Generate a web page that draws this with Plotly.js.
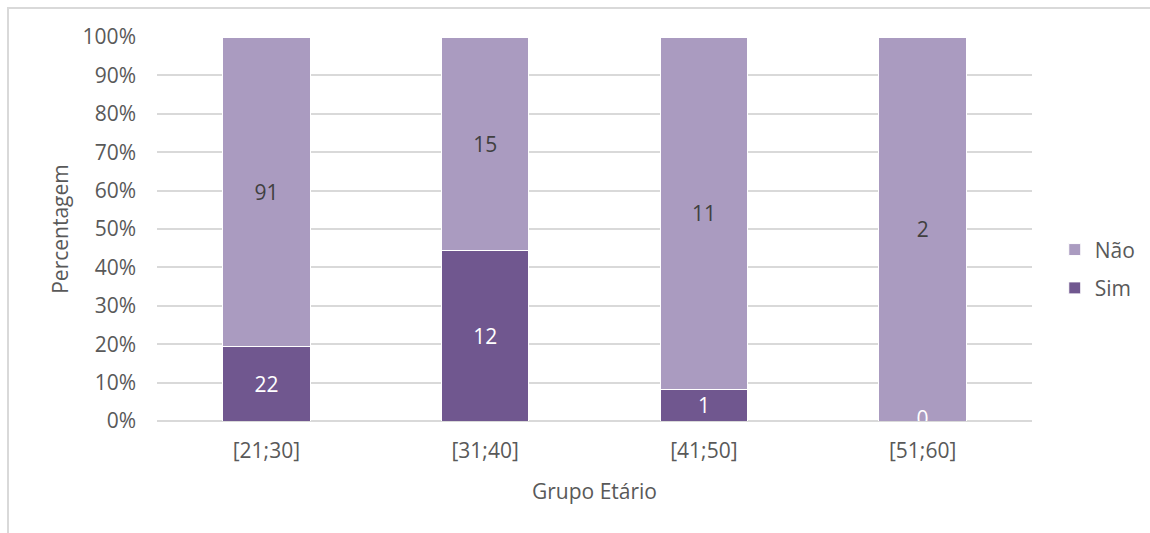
<!DOCTYPE html>
<html>
<head>
<meta charset="utf-8">
<script src="https://cdn.plot.ly/plotly-3.0.1.min.js"></script>
<style>
  html, body { margin: 0; padding: 0; background: #fff; }
  #wrap { position: relative; width: 1150px; height: 533px; overflow: hidden; }
  #chart { width: 1150px; height: 533px; }
  #frame { position: absolute; left: 7px; top: 7px; width: 1200px; height: 600px;
           border-top: 2px solid #D9D9D9; border-left: 2px solid #D9D9D9; pointer-events: none; }
</style>
</head>
<body>
<div id="wrap">
  <div id="chart"></div>
  <div id="frame"></div>
</div>
<script>
// Age groups and answer counts per group
const categories = ['[21;30]', '[31;40]', '[41;50]', '[51;60]'];
const simCounts = [22, 12, 1, 0];
const naoCounts = [91, 15, 11, 2];

const FONT = 'Open Sans, sans-serif';
const TEXT = '#595959';
const SIM_COLOR = '#70578F';
const NAO_COLOR = '#AA9BC0';

const sim = {
  type: 'bar', name: 'Sim', x: categories, y: simCounts,
  text: simCounts.map(String), textposition: 'inside', insidetextanchor: 'middle',
  textangle: 0, constraintext: 'none',
  textfont: { family: FONT, size: 21, color: '#FFFFFF' },
  marker: { color: SIM_COLOR, line: { color: '#FFFFFF', width: 1 } },
  legendgroup: 'sim', legendrank: 2, hoverinfo: 'skip'
};
const nao = {
  type: 'bar', name: 'Não', x: categories, y: naoCounts,
  text: naoCounts.map(String), textposition: 'inside', insidetextanchor: 'middle',
  textangle: 0, constraintext: 'none',
  textfont: { family: FONT, size: 21, color: '#404040' },
  marker: { color: NAO_COLOR, line: { color: '#FFFFFF', width: 1 } },
  legendgroup: 'nao', legendrank: 1, hoverinfo: 'skip'
};
// Labels for zero-height segments, clipped at the baseline
const zeroIdx = simCounts.map((v, i) => v === 0 ? i : -1).filter(i => i >= 0);
const zeroLabels = {
  type: 'scatter', mode: 'text',
  x: zeroIdx.map(i => categories[i]), y: zeroIdx.map(i => simCounts[i]),
  text: zeroIdx.map(i => String(simCounts[i])), textposition: 'middle center',
  textfont: { family: FONT, size: 21, color: '#FFFFFF' },
  cliponaxis: true, showlegend: false, hoverinfo: 'skip'
};

const layout = {
  width: 1150, height: 533,
  margin: { l: 157, r: 118, t: 37, b: 112, autoexpand: false },
  paper_bgcolor: '#FFFFFF', plot_bgcolor: '#FFFFFF',
  barmode: 'stack', barnorm: 'percent', bargap: 0.6,
  font: { family: FONT, size: 21, color: TEXT },
  showlegend: true,
  legend: {
    x: 1.026, xanchor: 'left', y: 0.396, yanchor: 'middle',
    traceorder: 'grouped', tracegroupgap: 8,
    font: { family: FONT, size: 21, color: TEXT },
    itemwidth: 30
  },
  xaxis: {
    type: 'category', showgrid: false, showline: false, ticks: '',
    tickfont: { family: FONT, size: 21, color: TEXT },
    ticklabelstandoff: 15,
    title: { text: 'Grupo Etário', font: { family: FONT, size: 21, color: TEXT }, standoff: 21 }
  },
  yaxis: {
    range: [0, 100], dtick: 10, ticksuffix: '%',
    showgrid: true, gridcolor: '#D9D9D9', gridwidth: 2,
    zeroline: true, zerolinecolor: '#D9D9D9', zerolinewidth: 2,
    showline: false, ticks: '', ticklabelstandoff: 20,
    tickfont: { family: FONT, size: 21, color: TEXT },
    title: { text: 'Percentagem', font: { family: FONT, size: 21, color: TEXT }, standoff: 8 }
  }
};

Plotly.newPlot('chart', [sim, nao, zeroLabels], layout, { displayModeBar: false, staticPlot: true });
</script>
</body>
</html>
